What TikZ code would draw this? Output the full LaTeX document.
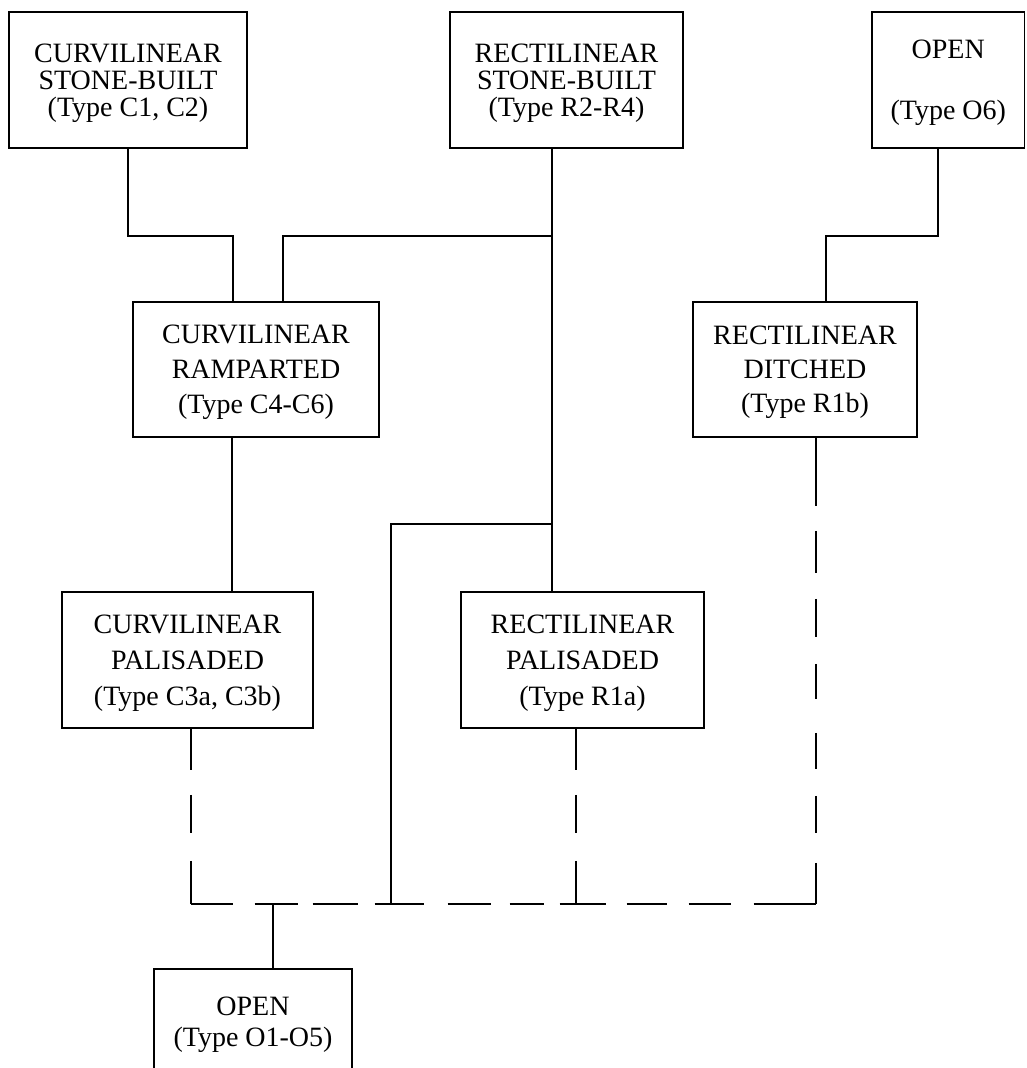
\documentclass[tikz,border=0pt]{standalone}
\usepackage{fontspec}
\setmainfont{Liberation Serif}
\begin{document}
\begin{tikzpicture}[x=1pt,y=-1pt,
  box/.style={draw, line width=1.8pt, align=center, inner sep=0pt, text depth=0pt},
  tight/.style={font=\fontsize{28}{27}\selectfont},
  loose/.style={font=\fontsize{28}{35}\selectfont},
  conn/.style={line width=1.8pt},
  dashv/.style={line width=2pt, dash pattern=on 41pt off 25pt on 38pt off 28pt on 44pt},
  dashh/.style={line width=2pt, dash pattern=on 42pt off 22pt on 43pt off 15pt on 45pt off 17pt on 49pt off 24pt on 43pt off 19pt on 34pt off 16pt on 46pt off 21pt on 40pt off 22pt on 42pt off 23pt on 63pt off 10pt},
  dashr/.style={line width=2pt, dash pattern=on 68pt off 25pt on 42pt off 26pt on 38pt off 27pt on 35pt off 34pt on 36pt off 27pt on 37pt off 30pt on 42pt off 10pt}]
\path[use as bounding box, clip] (0,0) rectangle (1026,1068);
\fill[white] (0,0) rectangle (1026,1068);

% levels
\coordinate (hA) at (0,236);
\coordinate (hC) at (0,904);
\coordinate (v1) at (391,524);

% boxes
\node[box, tight, minimum width=238pt, minimum height=136pt] (b1) at (128,80) {CURVILINEAR\\STONE-BUILT\\(Type C1, C2)};
\node[box, tight, minimum width=233pt, minimum height=136pt] (b2) at (566.5,80) {RECTILINEAR\\STONE-BUILT\\(Type R2-R4)};
\node[box, font=\fontsize{28}{30.5}\selectfont, minimum width=152.5pt, minimum height=136pt] (b3) at (948.25,80) {OPEN\\\mbox{}\\(Type O6)};
\node[box, loose, minimum width=246pt, minimum height=135pt] (b4) at (256,369.5) {CURVILINEAR\\RAMPARTED\\(Type C4-C6)};
\node[box, font=\fontsize{28}{34}\selectfont, minimum width=224pt, minimum height=135pt] (b5) at (805,369.5) {RECTILINEAR\\DITCHED\\(Type R1b)};
\node[box, font=\fontsize{28}{36}\selectfont, minimum width=251pt, minimum height=136pt] (b6) at (187.5,660) {CURVILINEAR\\PALISADED\\(Type C3a, C3b)};
\node[box, font=\fontsize{28}{36}\selectfont, minimum width=243pt, minimum height=136pt] (b7) at (582.5,660) {RECTILINEAR\\PALISADED\\(Type R1a)};
\node[box, font=\fontsize{28}{31}\selectfont, minimum width=198pt, minimum height=106pt] (b8) at (253,1022) {OPEN\\(Type O1-O5)};

% anchor points of connectors
\coordinate (t2) at ([xshift=-14.5pt]b2.south);
\coordinate (t3) at ([xshift=-10.5pt]b3.south);
\coordinate (s6) at ([xshift=3pt]b6.south);
\coordinate (s7) at ([xshift=-6.5pt]b7.south);
\coordinate (s5) at ([xshift=11pt]b5.south);

% solid connectors
\draw[conn] (b1.south) -- (b1.south |- hA) -| ([xshift=-23pt]b4.north);
\draw[conn] ([xshift=27pt]b4.north) |- (t2 |- hA);
\draw[conn] (t2) -- (t2 |- b7.north);
\draw[conn] (t2 |- v1) -- (v1) -- (v1 |- hC);
\draw[conn] (t3) -- (t3 |- hA) -| ([xshift=21pt]b5.north);
\draw[conn] ([xshift=-24pt]b4.south) -- ([xshift=-24pt]b4.south |- b6.north);
\draw[conn] ([xshift=20pt]b8.north) -- ([xshift=20pt]b8.north |- hC);

% dashed connectors
\draw[dashv] (s6) -- (s6 |- hC);
\draw[dashv] (s7) -- (s7 |- hC);
\draw[dashr] (s5) -- (s5 |- hC);
\draw[dashh] (s6 |- hC) -- (s5 |- hC);
\end{tikzpicture}
\end{document}
